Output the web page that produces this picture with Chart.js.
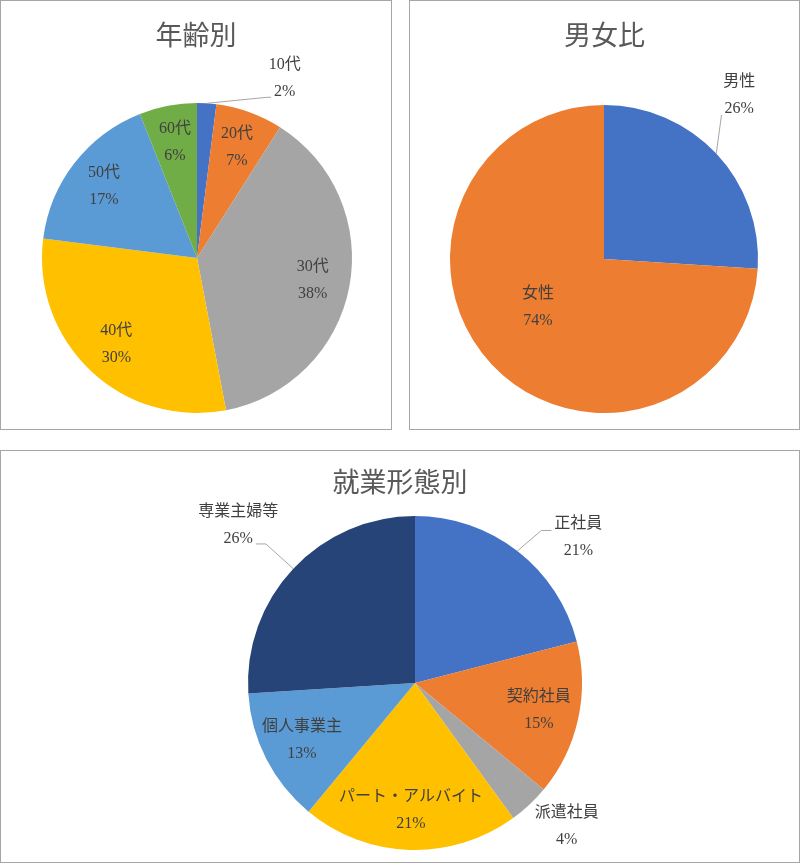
<!DOCTYPE html>
<html lang="ja">
<head>
<meta charset="utf-8">
<title>年齢別・男女比・就業形態別</title>
<script src="https://cdn.jsdelivr.net/npm/chart.js@4.4.1/dist/chart.umd.min.js"></script>
<style>
    body { margin: 0; background: #fff; }
    .panel { position: absolute; border: 1px solid #a6a6a6; background: #fff; }
    .panel canvas { display: block; }
</style>
</head>
<body>
<div class="panel" style="left:0; top:0;"><canvas id="ageChart" width="390" height="428"></canvas></div>
<div class="panel" style="left:409px; top:0;"><canvas id="genderChart" width="389" height="428"></canvas></div>
<div class="panel" style="left:0; top:450px;"><canvas id="jobChart" width="798" height="411"></canvas></div>

<script>
// Data
const ageLabels = ['10代', '20代', '30代', '40代', '50代', '60代'];
const ageValues = [2, 7, 38, 30, 17, 6];

const genderLabels = ['男性', '女性'];
const genderValues = [26, 74];

const jobLabels = ['正社員', '契約社員', '派遣社員', 'パート・アルバイト', '個人事業主', '専業主婦等'];
const jobValues = [21, 15, 4, 21, 13, 26];

// Office default palette
const blue = '#4472C4', orange = '#ED7D31', gray = '#A5A5A5',
      gold = '#FFC000', lightBlue = '#5B9BD5', green = '#70AD47', navy = '#264478';

// Draws the "label / percent" pairs, with leader lines for labels outside the pie
const pieLabels = {
    id: 'pieLabels',
    afterDatasetsDraw(chart, args, opts) {
        const ctx = chart.ctx;
        const meta = chart.getDatasetMeta(0);
        const data = chart.data.datasets[0].data;
        const total = data.reduce((a, b) => a + b, 0);
        const place = opts.place || {};
        ctx.save();
        ctx.font = opts.font;
        ctx.fillStyle = '#404040';
        ctx.textAlign = 'center';
        ctx.textBaseline = 'middle';
        meta.data.forEach((arc, i) => {
            const p = arc.getProps(['x', 'y', 'startAngle', 'endAngle', 'outerRadius'], true);
            const mid = (p.startAngle + p.endAngle) / 2;
            const o = place[i];
            const ang = o ? o.a * Math.PI / 180 - Math.PI / 2 : mid;
            const f = o ? o.f : opts.inside;
            const cx = p.x + Math.cos(ang) * p.outerRadius * f;
            const cy = p.y + Math.sin(ang) * p.outerRadius * f;
            const l1 = chart.data.labels[i];
            const l2 = Math.round(data[i] / total * 100) + '%';
            ctx.fillText(l1, cx, cy - opts.lineGap / 2);
            ctx.fillText(l2, cx, cy + opts.lineGap / 2);

            if (o && o.leader) {
                const ax = p.x + Math.cos(mid) * p.outerRadius;
                const ay = p.y + Math.sin(mid) * p.outerRadius;
                const side = cx > p.x ? 1 : -1;
                const yT = cy + o.dy;
                const w = ctx.measureText(o.dy > 0 ? l2 : l1).width;
                const edge = cx - side * (w / 2 + 3);
                ctx.strokeStyle = '#a6a6a6';
                ctx.lineWidth = 1;
                ctx.beginPath();
                ctx.moveTo(ax, ay);
                ctx.lineTo(edge - side * o.h, yT);
                ctx.lineTo(edge, yT);
                ctx.stroke();
            }
        });
        ctx.restore();
    }
};

// Chart title centred on the whole panel
const panelTitle = {
    id: 'panelTitle',
    afterDraw(chart, args, opts) {
        const ctx = chart.ctx;
        ctx.save();
        ctx.font = '27px "Noto Sans CJK JP"';
        ctx.fillStyle = '#595959';
        ctx.textAlign = 'center';
        ctx.textBaseline = 'middle';
        ctx.fillText(opts.text, chart.width / 2, opts.y);
        ctx.restore();
    }
};

function makePie(id, labels, values, colors, title, titleY, padding, place) {
    return new Chart(document.getElementById(id), {
        type: 'pie',
        data: {
            labels: labels,
            datasets: [{
                data: values,
                backgroundColor: colors,
                borderWidth: 0
            }]
        },
        options: {
            responsive: false,
            animation: false,
            layout: { padding: padding },
            plugins: {
                legend: { display: false },
                tooltip: { enabled: false },
                title: { display: false },
                panelTitle: { text: title, y: titleY },
                pieLabels: {
                    font: '16px "Liberation Serif", "Noto Sans CJK JP"',
                    lineGap: 27,
                    inside: 0.76,
                    place: place
                }
            }
        },
        plugins: [pieLabels, panelTitle]
    });
}

makePie('ageChart', ageLabels, ageValues,
    [blue, orange, gray, gold, lightBlue, green],
    '年齢別', 34,
    { left: 41, right: 39, top: 102, bottom: 16 },
    { 0: { a: 26, f: 1.29, leader: true, dy: 19, h: 4 } });

makePie('genderChart', genderLabels, genderValues,
    [blue, orange],
    '男女比', 34,
    { left: 40, right: 41, top: 104, bottom: 16 },
    {
        0: { a: 39.5, f: 1.38, leader: true, dy: 20, h: 0 },
        1: { a: 234, f: 0.53 }
    });

makePie('jobChart', jobLabels, jobValues,
    [blue, orange, gray, gold, lightBlue, navy],
    '就業形態別', 31,
    { left: 247, right: 217, top: 65, bottom: 12 },
    {
        0: { a: 48.3, f: 1.31, leader: true, dy: -7, h: 10 },
        2: { a: 133.4, f: 1.25 },
        5: { a: 311.8, f: 1.42, leader: true, dy: 19, h: 10 }
    });
</script>
</body>
</html>
